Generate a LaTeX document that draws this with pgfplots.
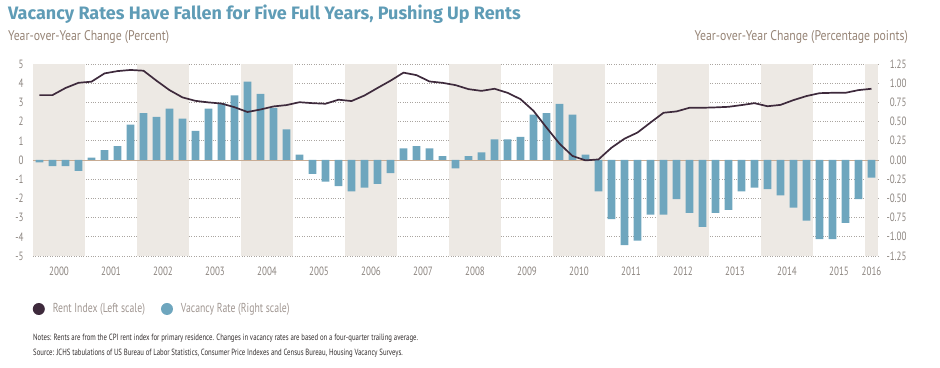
\documentclass[border=0pt]{standalone}
\usepackage{pgfplots}
\pgfplotsset{compat=1.18}
\usepackage{pgfplotstable}
\usepackage{fontspec}
\setmainfont{PT Sans}
\newfontfamily\cond{PT Sans}[FakeStretch=0.75]
\newfontfamily\condb{PT Sans}[FakeStretch=0.84]
\newfontfamily\titlef{Fira Sans}[FakeStretch=1.0]
\definecolor{titlecol}{RGB}{95,156,182}
\definecolor{subcol}{RGB}{150,132,118}
\definecolor{tickcol}{RGB}{140,133,128}
\definecolor{legcol}{RGB}{160,150,145}
\definecolor{barcol}{RGB}{110,166,190}
\definecolor{rentcol}{RGB}{62,42,60}
\definecolor{bandcol}{RGB}{237,233,228}
\definecolor{gridcol}{RGB}{170,165,160}
\definecolor{zerocol}{RGB}{200,172,148}
\definecolor{notecol}{RGB}{50,45,45}

\pgfplotstableread{
q v
0 -0.03
1 -0.08
2 -0.08
3 -0.14
4 0.03
5 0.13
6 0.18
7 0.46
8 0.61
9 0.56
10 0.67
11 0.54
12 0.38
13 0.67
14 0.74
15 0.84
16 1.02
17 0.86
18 0.68
19 0.40
20 0.07
21 -0.18
22 -0.28
23 -0.34
24 -0.41
25 -0.36
26 -0.31
27 -0.17
28 0.15
29 0.18
30 0.15
31 0.05
32 -0.11
33 0.05
34 0.10
35 0.27
36 0.27
37 0.30
38 0.59
39 0.61
40 0.73
41 0.59
42 0.07
43 -0.41
44 -0.77
45 -1.11
46 -1.05
47 -0.71
48 -0.71
49 -0.51
50 -0.69
51 -0.87
52 -0.69
53 -0.65
54 -0.41
55 -0.36
56 -0.38
57 -0.46
58 -0.62
59 -0.79
60 -1.03
61 -1.03
62 -0.82
63 -0.51
64 -0.23
}\vacancy

\pgfplotstableread{
q r
0 3.38
1 3.38
2 3.75
3 4.02
4 4.08
5 4.51
6 4.63
7 4.69
8 4.65
9 4.13
10 3.64
11 3.26
12 3.08
13 3.00
14 2.94
15 2.75
16 2.50
17 2.63
18 2.79
19 2.86
20 3.01
21 2.96
22 2.93
23 3.14
24 3.07
25 3.36
26 3.75
27 4.13
28 4.55
29 4.42
30 4.09
31 4.02
32 3.90
33 3.69
34 3.60
35 3.71
36 3.50
37 3.17
38 2.56
39 1.69
40 0.85
41 0.21
42 -0.02
43 0.03
44 0.64
45 1.11
46 1.43
47 1.95
48 2.46
49 2.53
50 2.72
51 2.72
52 2.74
53 2.77
54 2.86
55 2.96
56 2.80
57 2.87
58 3.12
59 3.33
60 3.48
61 3.50
62 3.50
63 3.64
64 3.71
}\rent

\begin{document}
\begin{tikzpicture}
\begin{axis}[
  set layers,
  at={(33pt,111pt)}, anchor=south west, scale only axis,
  width=845pt, height=192pt,
  xmin=-0.5, xmax=64.5, ymin=-1.25, ymax=1.25,
  axis line style={draw=none}, tick style={draw=none},
  yticklabel pos=right,
  ytick={-1.25,-1,-0.75,-0.5,-0.25,0,0.25,0.5,0.75,1,1.25},
  ymajorgrids, grid style={dotted, gridcol, line width=0.6pt},
  /pgf/number format/assume math mode=true,
  yticklabel={\pgfmathprintnumber[fixed,fixed zerofill,precision=2]{\tick}},
  yticklabel style={font=\cond\fontsize{12}{12}\selectfont, text=tickcol, anchor=east, xshift=32pt},
  xtick={1.5,5.5,9.5,13.5,17.5,21.5,25.5,29.5,33.5,37.5,41.5,45.5,49.5,53.5,57.5,61.5,64},
  xticklabels={2000,2001,2002,2003,2004,2005,2006,2007,2008,2009,2010,2011,2012,2013,2014,2015,2016},
  xticklabel style={font=\cond\fontsize{12}{12}\selectfont, text=tickcol, yshift=-7pt},
  clip=false,
]
\fill[bandcol, on layer=axis background] (axis cs:-0.5,-1.25) rectangle (axis cs:3.5,1.25);
\fill[bandcol, on layer=axis background] (axis cs:7.5,-1.25) rectangle (axis cs:11.5,1.25);
\fill[bandcol, on layer=axis background] (axis cs:15.5,-1.25) rectangle (axis cs:19.5,1.25);
\fill[bandcol, on layer=axis background] (axis cs:23.5,-1.25) rectangle (axis cs:27.5,1.25);
\fill[bandcol, on layer=axis background] (axis cs:31.5,-1.25) rectangle (axis cs:35.5,1.25);
\fill[bandcol, on layer=axis background] (axis cs:39.5,-1.25) rectangle (axis cs:43.5,1.25);
\fill[bandcol, on layer=axis background] (axis cs:47.5,-1.25) rectangle (axis cs:51.5,1.25);
\fill[bandcol, on layer=axis background] (axis cs:55.5,-1.25) rectangle (axis cs:59.5,1.25);
\fill[bandcol, on layer=axis background] (axis cs:63.5,-1.25) rectangle (axis cs:64.5,1.25);
\draw[zerocol, line width=0.9pt] (axis cs:-0.5,0) -- (axis cs:64.5,0);
\addplot[ybar, bar width=7.6pt, fill=barcol, draw=none] table[x=q, y=v] {\vacancy};
\end{axis}
\begin{axis}[
  at={(33pt,111pt)}, anchor=south west, scale only axis,
  width=845pt, height=192pt,
  xmin=-0.5, xmax=64.5, ymin=-5, ymax=5,
  axis line style={draw=none}, tick style={draw=none},
  xtick=\empty,
  ytick={-5,-4,-3,-2,-1,0,1,2,3,4,5},
  /pgf/number format/assume math mode=true,
  yticklabel style={font=\cond\fontsize{12}{12}\selectfont, text=tickcol, xshift=-6pt},
  legend style={at={(axis description cs:-0.004,-0.276)}, anchor=west, draw=none, fill=none,
    font=\cond\fontsize{13}{13}\selectfont, text=legcol, legend columns=2,
    /tikz/every even column/.append style={column sep=14pt}},
  legend cell align=left,
]
\addplot[rentcol, line width=1.7pt, forget plot] table[x=q, y=r] {\rent};
\addlegendimage{legend image code/.code={\fill[rentcol, draw=none] (6pt,0pt) circle (6pt); \path[draw=none, fill=none] (0pt,0pt) -- (18pt,0pt);}}
\addlegendentry{Rent Index (Left scale)}
\addlegendimage{legend image code/.code={\fill[barcol, draw=none] (6pt,0pt) circle (6pt); \path[draw=none, fill=none] (0pt,0pt) -- (18pt,0pt);}}
\addlegendentry{Vacancy Rate (Right scale)}
\end{axis}
\node[anchor=base west, text=titlecol, font=\titlef\bfseries\fontsize{18}{18}\selectfont, inner sep=0pt] at (8pt,347pt) {Vacancy Rates Have Fallen for Five Full Years, Pushing Up Rents};
\node[anchor=base west, text=subcol, font=\condb\fontsize{14}{14}\selectfont, inner sep=0pt] at (8pt,326pt) {Year-over-Year Change (Percent)};
\node[anchor=base east, text=subcol, font=\condb\fontsize{14}{14}\selectfont, inner sep=0pt] at (908pt,326pt) {Year-over-Year Change (Percentage points)};
\node[anchor=base west, text=notecol, font=\cond\fontsize{9}{9}\selectfont, inner sep=0pt] at (33pt,27pt) {Notes: Rents are from the CPI rent index for primary residence. Changes in vacancy rates are based on a four-quarter trailing average.};
\node[anchor=base west, text=notecol, font=\cond\fontsize{9}{9}\selectfont, inner sep=0pt] at (33pt,12pt) {Source: JCHS tabulations of US Bureau of Labor Statistics, Consumer Price Indexes and Census Bureau, Housing Vacancy Surveys.};
\path (0pt,0pt) rectangle (940pt,367pt);
\end{tikzpicture}
\end{document}
